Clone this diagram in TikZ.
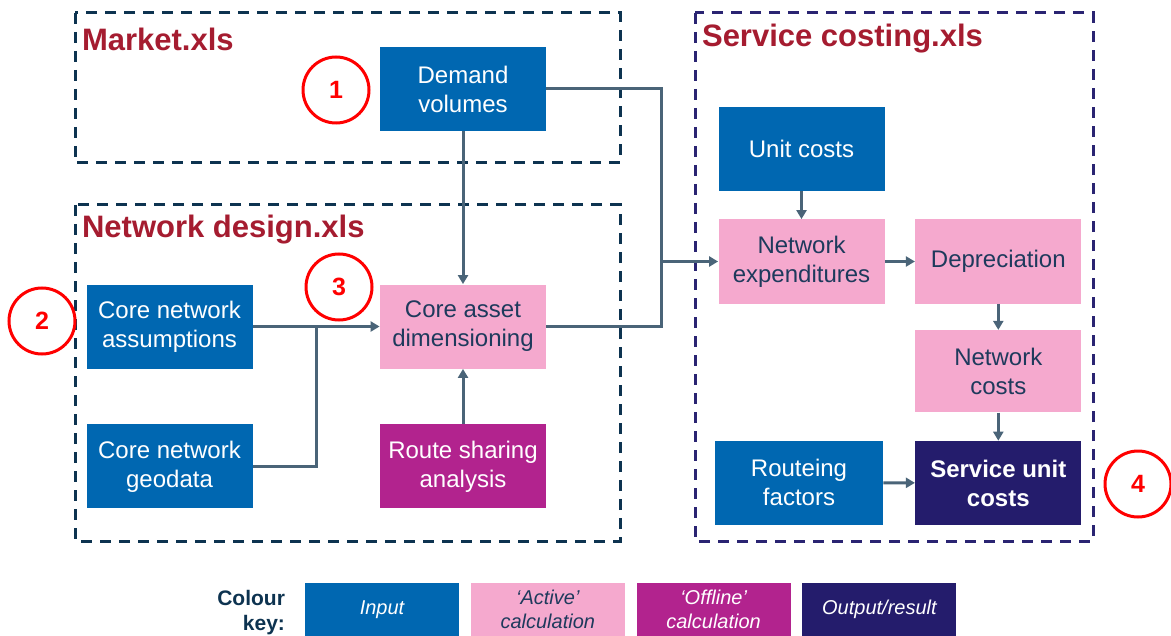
\documentclass[tikz,border=0pt]{standalone}
\usepackage{fontspec}
\setmainfont{Liberation Sans}
\usetikzlibrary{arrows.meta, positioning, calc}
\definecolor{InputBlue}{HTML}{0067B1}
\definecolor{ActivePink}{HTML}{F5A9CE}
\definecolor{OfflineMagenta}{HTML}{B2238E}
\definecolor{OutputNavy}{HTML}{241C6C}
\definecolor{FileRed}{HTML}{A51C30}
\definecolor{LinkSlate}{HTML}{4A6478}
\definecolor{FrameTeal}{HTML}{0D3350}
\definecolor{FramePurple}{HTML}{2A2472}
\definecolor{TextNavy}{HTML}{1E3A5C}
\definecolor{MarkRed}{HTML}{FF0000}
\tikzset{
  inputbox/.style={fill=InputBlue, text=white, align=center, minimum width=83pt, minimum height=42pt, inner sep=0pt, font=\fontsize{12}{14.5}\selectfont},
  activebox/.style={inputbox, fill=ActivePink, text=TextNavy},
  offlinebox/.style={inputbox, fill=OfflineMagenta},
  outputbox/.style={inputbox, fill=OutputNavy, font=\fontsize{12}{14.5}\selectfont\bfseries},
  filebox/.style={line width=1.5pt, dash pattern=on 5.5pt off 4pt},
  filetitle/.style={anchor=west, text=FileRed, font=\fontsize{15.5}{18}\selectfont\bfseries},
  stepmark/.style={circle, draw=MarkRed, line width=1.5pt, minimum size=33pt, inner sep=0pt, text=MarkRed, font=\fontsize{12.5}{15}\selectfont\bfseries},
  keybox/.style={minimum width=77pt, minimum height=26.5pt, inner sep=0pt, align=center, font=\fontsize{10}{12}\selectfont\itshape},
  link/.style={line width=1.5pt, draw=LinkSlate},
  arrow/.style={link, -{Triangle[length=4.5pt, width=5pt]}}
}
\begin{document}
\begin{tikzpicture}[x=0.5pt, y=-0.5pt]
\useasboundingbox (0,0) rectangle (1171,636);
% workbook frames
\draw[filebox, draw=FrameTeal] (75,13) rectangle (620,163);
\draw[filebox, draw=FrameTeal] (75,205) rectangle (620,541);
\draw[filebox, draw=FramePurple] (695,13) rectangle (1093,541);
\node[filetitle] (markettitle) at (75,39) {Market.xls};
\node[filetitle] (designtitle) at (75,230) {Network design.xls};
\node[filetitle] (costingtitle) at (695,39) {Service costing.xls};
% Market.xls
\node[inputbox] (demand) at (463,89) {Demand\\volumes};
\node[stepmark] (mark1) at (336,90) {1};
% Network design.xls
\node[inputbox] (assump) at (169.5,326.5) {Core network\\assumptions};
\node[inputbox, below=27.5pt of assump] (geodata) {Core network\\geodata};
\node[activebox] (coreasset) at (463,326.5) {Core asset\\dimensioning};
\node[offlinebox, below=27.5pt of coreasset] (route) {Route sharing\\analysis};
\node[stepmark] (mark2) at (42,321) {2};
\node[stepmark] (mark3) at (339,287) {3};
% Service costing.xls
\node[inputbox] (unitcost) at (801.5,149) {Unit costs};
\node[activebox] (netexp) at (801.5,261.5) {Network\\expenditures};
\node[activebox, right=15pt of netexp] (deprec) {Depreciation};
\node[activebox, below=13pt of deprec, minimum height=41pt] (netcost) {Network\\costs};
\node[outputbox, below=14pt of netcost] (svcunit) {Service unit\\costs};
\node[inputbox, minimum width=84pt] (routeing) at (799,482.5) {Routeing\\factors};
\node[stepmark] (mark4) at (1138,484) {4};
% links
\coordinate (geojoin) at (316,326.5);
\coordinate (costjoin) at (661,261.5);
\draw[arrow] (demand) -- (coreasset);
\draw[arrow] (assump) -- (coreasset);
\draw[link] (geodata.east) -| (geojoin);
\draw[arrow] (route) -- (coreasset);
\draw[link] (demand.east) -| (costjoin);
\draw[link] (coreasset.east) -| (costjoin);
\draw[arrow] (costjoin) -- (netexp.west);
\draw[arrow] (unitcost) -- (netexp);
\draw[arrow] (netexp) -- (deprec);
\draw[arrow] (deprec) -- (netcost);
\draw[arrow] (netcost) -- (svcunit);
\draw[arrow] (routeing) -- (svcunit);
% colour key
\node[anchor=east, align=right, text=FrameTeal, font=\fontsize{10.5}{12.5}\selectfont\bfseries] (keylabel) at (292,613) {Colour\\key:};
\node[keybox, fill=InputBlue, text=white] (keyinput) at (382,609.5) {Input};
\node[keybox, fill=ActivePink, text=TextNavy, right=5.5pt of keyinput] (keyactive) {`Active'\\calculation};
\node[keybox, fill=OfflineMagenta, text=white, right=5.5pt of keyactive] (keyoffline) {`Offline'\\calculation};
\node[keybox, fill=OutputNavy, text=white, right=5.5pt of keyoffline] (keyoutput) {Output/result};
\end{tikzpicture}
\end{document}
